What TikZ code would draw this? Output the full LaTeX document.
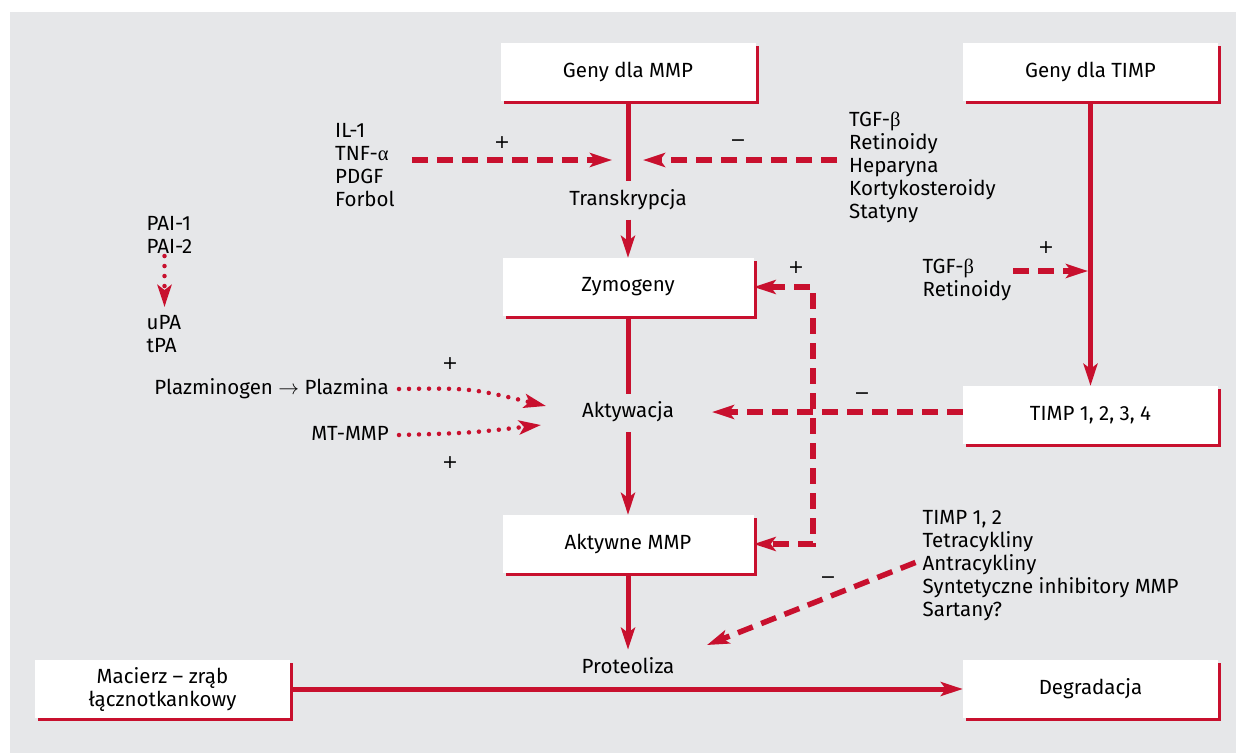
\documentclass[tikz,border=0pt]{standalone}
\usepackage{fontspec}
\setmainfont{Fira Sans}
\newfontfamily\grk{Liberation Serif}
\newfontfamily\sgn{DejaVu Sans}
\usetikzlibrary{positioning}
\usetikzlibrary{arrows.meta}
\usetikzlibrary{shadows}
\definecolor{mmpred}{RGB}{200,16,46}
\definecolor{bggray}{RGB}{230,231,233}
\tikzstyle{block} = [rectangle, fill=white, minimum height=58pt, minimum width=255pt, align=center, drop shadow={shadow xshift=3pt, shadow yshift=-3pt, fill=mmpred, opacity=1}]
\tikzstyle{stage} = [text height=15pt, text depth=5pt, inner ysep=0pt, minimum height=38pt]
\tikzstyle{list} = [align=left, inner sep=2pt]
\tikzstyle{sign} = [inner sep=1pt, font=\sgn\fontsize{19}{23}\selectfont]
\tikzstyle{spine} = [draw=mmpred, line width=5pt]
\tikzstyle{dasharrow} = [draw=mmpred, line width=5.5pt, dash pattern=on 16pt off 9pt]
\tikzstyle{dotarrow} = [draw=mmpred, line width=4.5pt, line cap=round, dash pattern=on 0pt off 10pt, ->]

\begin{document}
\begin{tikzpicture}[auto, x=1pt, y=-1pt, font=\fontsize{20.5}{23}\selectfont, >={Stealth[length=22pt,width=14pt,inset=5pt]}]
    \fill [bggray] (10,12) rectangle (1236,753);
    \useasboundingbox (0,0) rectangle (1236,753);

    % main chain
    \node [block] (gmmp) at (628,72) {Geny dla MMP};
    \node [block] (gtimp) at (1090.5,72) {Geny dla TIMP};
    \node [stage, below=80pt of gmmp] (transk) {Transkrypcja};
    \node [block, minimum width=251pt] (zymo) at (628,287) {Zymogeny};
    \node [stage, below=77.5pt of zymo] (aktyw) {Aktywacja};
    \node [block, minimum width=251pt] (akt) at (628,544) {Aktywne MMP};
    \node [stage, below=76.5pt of akt] (prot) {Proteoliza};
    \node [block] (timp) at (1090.5,415) {TIMP 1, 2, 3, 4};
    \node [block] (macierz) at (162.5,689) {Macierz – zrąb\\łącznotkankowy};
    \node [block] (degr) at (1090.5,689) {Degradacja};

    % factors
    \node [list, anchor=north west] (il) at (333,121) {IL-1\\TNF-{\grk α}\\PDGF\\Forbol};
    \node [list, anchor=north west] (tgf) at (847,110) {TGF-{\grk β}\\Retinoidy\\Heparyna\\Kortykosteroidy\\Statyny};
    \node [list, anchor=north west] (pai) at (144.5,214.5) {PAI-1\\PAI-2};
    \node [list, anchor=north west] (upa) at (144.5,313) {uPA\\tPA};
    \node [list, anchor=north west] (tgf2) at (920.5,257) {TGF-{\grk β}\\Retinoidy};
    \node [list, anchor=base east] (plaz) at (391,394) {Plazminogen $\rightarrow$ Plazmina};
    \node [list, anchor=base east] (mt) at (391,440) {MT-MMP};
    \node [list, anchor=north west] (t12) at (920.5,508) {TIMP 1, 2\\Tetracykliny\\Antracykliny\\Syntetyczne inhibitory MMP\\Sartany?};

    \coordinate (trin) at (628,160);
    \coordinate (tsin) at (1090,271);
    \coordinate (fb) at (813,412);
    \coordinate (akin1) at (546,406);
    \coordinate (akin2) at (541,425);
    \coordinate (akin3) at (712,412);
    \coordinate (prin) at (707,645);

    \draw [spine] (gmmp) -- (transk);
    \draw [spine,->] (transk) -- (zymo);
    \draw [spine] (zymo) -- (aktyw);
    \draw [spine,->] (aktyw) -- (akt);
    \draw [spine,->] (akt) -- (prot);
    \draw [spine,->] (gtimp) -- (timp);
    \draw [spine,->] (macierz) -- (degr);

    \draw [dasharrow,->, shorten <=15pt, shorten >=16pt] (il.east |- trin) -- (trin);
    \draw [dasharrow,->, shorten <=10pt, shorten >=15pt] (tgf.west |- trin) -- (trin);
    \draw [dasharrow,<->] (zymo.east) -| (fb) |- (akt.east);
    \draw [dasharrow,->] (timp.west |- fb) -- (akin3);
    \draw [dasharrow,->] ([shift={(-5pt,3pt)}]t12.west) -- (prin);
    \draw [dasharrow,->, shorten >=2pt] (tgf2.east |- tsin) -- (tsin);

    \draw [dotarrow, shorten >=6pt] ([xshift=20pt]pai.south west) -- ([xshift=20pt]upa.north west);
    \draw [dotarrow] ([shift={(8pt,5pt)}]plaz.base east) .. controls (470,388) .. (akin1);
    \draw [dotarrow] ([shift={(8pt,5pt)}]mt.base east) .. controls (470,433) .. (akin2);

    % signs
    \node [sign] (p1) at (502,143) {+};
    \node [sign] (m1) at (738,143) {−};
    \node [sign] (p2) at (796,268) {+};
    \node [sign] (p3) at (1046,248) {+};
    \node [sign] (m2) at (862,396) {−};
    \node [sign] (p4) at (450,364) {+};
    \node [sign] (p5) at (450,463) {+};
    \node [sign] (m3) at (828,580) {−};
\end{tikzpicture}
\end{document}
